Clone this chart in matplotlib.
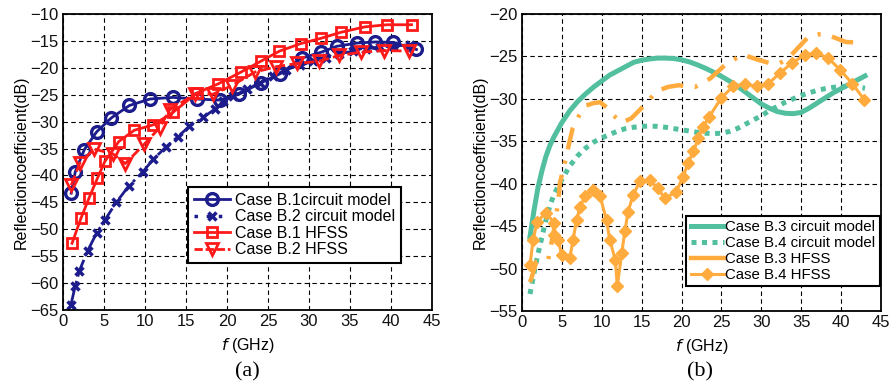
import matplotlib
matplotlib.use("Agg")
import matplotlib.pyplot as plt
from matplotlib.lines import Line2D

plt.rcParams['font.family'] = ['Liberation Sans', 'DejaVu Sans']

# ---------------- data: panel (a) ----------------
b1_cm_f = [1.0, 1.5, 2.6, 4.1, 5.9, 8.1, 10.6, 13.4, 16.3, 19.1, 21.5, 24.1, 26.5, 29.1, 31.5, 33.4, 35.9, 38.1, 40.3, 43.1]
b1_cm_db = [-43.3, -39.3, -35.2, -31.9, -29.3, -27.0, -25.8, -25.5, -25.8, -26.0, -24.9, -22.8, -21.1, -18.2, -17.1, -16.0, -15.4, -15.2, -15.3, -16.6]

b2_cm_f = [0.95, 1.5, 2.0, 3.0, 4.1, 5.1, 6.5, 8.0, 9.7, 11.0, 12.5, 14.0, 15.4, 17.1, 18.5, 19.5, 20.7, 22.4, 24.0, 25.6, 27.2, 28.9, 30.5, 32.1, 33.7, 35.4, 37.0, 38.6, 40.2, 42.3]
b2_cm_db = [-64.1, -60.5, -57.7, -54.0, -50.7, -48.3, -45.0, -42.0, -39.4, -37.0, -34.8, -32.8, -30.9, -29.2, -27.7, -26.2, -25.3, -24.0, -22.8, -21.5, -20.4, -19.4, -18.8, -18.2, -17.4, -16.9, -16.5, -16.1, -16.0, -15.7]

b1_hf_f = [1.1, 2.2, 3.2, 4.2, 5.1, 6.8, 8.7, 11.0, 13.4, 16.3, 18.9, 21.7, 24.1, 26.4, 29.0, 31.5, 33.9, 36.8, 39.5, 42.5]
b1_hf_db = [-52.6, -47.9, -44.1, -40.5, -37.4, -33.7, -31.6, -30.6, -28.3, -24.7, -23.0, -20.8, -18.8, -16.9, -15.5, -14.5, -13.4, -12.4, -12.0, -12.0]

b2_hf_f = [1.0, 2.05, 3.8, 6.1, 7.6, 9.9, 11.8, 13.0, 16.1, 18.3, 20.6, 23.4, 26.0, 28.5, 31.2, 33.7, 36.3, 39.2, 42.2]
b2_hf_db = [-41.8, -37.7, -35.1, -36.0, -37.8, -34.2, -31.1, -27.8, -24.9, -24.9, -23.3, -20.8, -19.8, -19.2, -18.8, -17.7, -17.1, -16.8, -16.9]

# ---------------- data: panel (b) ----------------
b3_cm_f = [1.0, 1.5, 2.0, 2.5, 3.0, 3.5, 4.0, 5.0, 6.0, 7.0, 8.0, 9.0, 10.0, 11.0, 12.0, 13.0, 14.0, 15.0, 16.0, 17.0, 18.0, 19.0, 20.0,
           21.0, 22.0, 23.0, 24.0, 25.0, 26.0, 27.0, 28.0, 29.0, 30.0, 31.0, 32.0, 33.0, 34.0, 35.0, 36.0, 37.0, 38.0, 39.0, 40.0, 41.0, 42.0, 43.0]
b3_cm_db = [-46.3, -43.2, -40.5, -38.5, -36.8, -35.5, -34.5, -32.8, -31.4, -30.3, -29.4, -28.6, -27.9, -27.2, -26.7, -26.2, -25.7, -25.45, -25.3, -25.2, -25.2, -25.25, -25.4,
            -25.65, -26.0, -26.4, -26.85, -27.35, -27.9, -28.5, -29.2, -29.9, -30.6, -31.1, -31.5, -31.7, -31.75, -31.6, -31.1, -30.5, -29.9, -29.3, -28.8, -28.3, -27.8, -27.3]

b4_cm_f = [1.0, 1.5, 2.0, 2.5, 3.0, 3.5, 4.0, 5.0, 6.0, 7.0, 8.0, 9.0, 10.0, 11.0, 12.0, 13.0, 14.0, 15.0, 16.0, 17.0, 18.0, 19.0, 20.0,
           21.0, 22.0, 23.0, 24.0, 25.0, 26.0, 27.0, 28.0, 29.0, 30.0, 31.0, 32.0, 33.0, 34.0, 35.0, 36.0, 37.0, 38.0, 39.0, 40.0, 41.0, 42.0, 43.0]
b4_cm_db = [-53.0, -50.6, -48.3, -46.3, -44.3, -42.6, -41.3, -39.5, -37.9, -36.7, -35.8, -35.1, -34.6, -34.2, -33.8, -33.5, -33.35, -33.25, -33.2, -33.25, -33.35, -33.5, -33.65,
            -33.8, -33.95, -34.05, -34.1, -34.05, -33.85, -33.5, -33.0, -32.5, -32.0, -31.4, -30.9, -30.4, -30.0, -29.6, -29.3, -29.0, -28.8, -28.65, -28.55, -28.5, -28.6, -28.75]

b3_hf_f = [1.0, 1.2, 1.8, 2.5, 3.3, 4.0, 4.55, 4.76, 5.4, 5.9, 6.35, 7.2, 8.0, 9.0, 9.8, 10.6, 11.4, 12.5, 13.7, 15.3, 16.9, 18.3, 19.6, 21.7, 23.6, 25.7, 27.7, 29.6, 31.1, 32.3, 33.3, 34.2, 35.9, 37.2, 38.4, 40.6, 42.8]
b3_hf_db = [-51.6, -51.1, -49.2, -49.0, -48.9, -45.5, -42.1, -39.9, -37.4, -35.3, -33.5, -31.9, -30.8, -30.5, -30.4, -31.0, -31.9, -32.8, -32.3, -30.8, -29.1, -28.6, -28.4, -28.6, -27.6, -25.8, -24.8, -25.4, -25.8, -25.8, -25.3, -24.4, -22.7, -22.4, -22.5, -23.3, -23.4]

b4_hf_f = [1.0, 1.4, 1.9, 3.0, 4.0, 4.05, 4.5, 5.0, 6.0, 6.4, 6.85, 7.3, 7.9, 8.9, 9.8, 10.6, 11.0, 11.7, 11.95, 12.5, 12.9, 13.3, 13.95, 14.8, 16.0, 17.0, 17.9, 19.3, 20.2, 20.8, 21.5, 22.1, 22.7, 23.4, 25.0, 26.5, 27.9, 29.4, 30.9, 32.3, 33.8, 35.5, 36.9, 38.4, 39.9, 41.4, 42.9]
b4_hf_db = [-49.6, -46.6, -44.5, -43.4, -44.6, -46.0, -46.6, -48.4, -48.8, -46.6, -44.3, -42.7, -41.5, -40.7, -41.5, -44.3, -46.6, -49.0, -52.1, -48.2, -45.6, -43.3, -41.3, -39.7, -39.6, -40.5, -41.7, -41.0, -39.2, -37.6, -36.2, -34.6, -33.3, -32.2, -29.9, -28.5, -28.3, -28.5, -28.2, -27.0, -25.8, -24.8, -24.6, -25.2, -26.6, -28.2, -30.1]

xticks = [0, 5, 10, 15, 20, 25, 30, 35, 40, 45]
yticks_a = [-65, -60, -55, -50, -45, -40, -35, -30, -25, -20, -15, -10]
yticks_b = [-55, -50, -45, -40, -35, -30, -25, -20]

labels_a = ['Case B.1circuit model', 'Case B.2 circuit model', 'Case B.1 HFSS', 'Case B.2 HFSS']
labels_b = ['Case B.3 circuit model', 'Case B.4 circuit model', 'Case B.3 HFSS', 'Case B.4 HFSS']

NAVY = '#1c1c8c'
RED = '#ff1a1a'
TEAL = '#52bf9f'
ORANGE = '#ffab3d'

fig = plt.figure(figsize=(8.95, 3.88), dpi=100)
ax1 = fig.add_axes([0.0704, 0.2010, 0.4123, 0.7630])
ax2 = fig.add_axes([0.5832, 0.1985, 0.4011, 0.7655])


def style_axes(ax, yticks, ylim):
    ax.set_xlim(0, 45)
    ax.set_ylim(*ylim)
    ax.set_xticks(xticks)
    ax.set_yticks(yticks)
    ax.tick_params(direction='in', length=0, labelsize=12, pad=3, colors='#111111')
    ax.grid(True, color='black', linestyle=(0, (4, 3)), linewidth=0.8)
    for s in ax.spines.values():
        s.set_linewidth(1.3)
        s.set_color('black')
    ax.set_xlabel(r'$\it{f}$ (GHz)', fontsize=11.5, labelpad=5)
    ax.set_ylabel('Reflectioncoefficient(dB)', fontsize=11.5, labelpad=1)


# ---- panel (a)
ax1.plot(b1_cm_f, b1_cm_db, '-', color=NAVY, lw=2, marker='o', ms=8.5, mfc='none', mew=2.4, label=labels_a[0])
ax1.plot(b2_cm_f, b2_cm_db, '-.', color=NAVY, lw=2, marker='x', ms=6, mew=2.5, label=labels_a[1])
ax1.plot(b1_hf_f, b1_hf_db, '-', color=RED, lw=2, marker='s', ms=7.5, mfc='none', mew=2, label=labels_a[2])
ax1.plot(b2_hf_f, b2_hf_db, '--', color=RED, lw=2, marker='v', ms=9, mfc='none', mew=2, label=labels_a[3])
style_axes(ax1, yticks_a, (-65, -10))

h_a = [
    Line2D([], [], color=NAVY, lw=2, marker='o', ms=8.5, mfc='none', mew=2.4),
    Line2D([], [], color=NAVY, lw=2.5, ls=(0, (1, 2.5)), marker='x', ms=6, mew=2.5),
    Line2D([], [], color=RED, lw=2, marker='s', ms=7.5, mfc='none', mew=2),
    Line2D([], [], color=RED, lw=2, ls=(0, (3, 1)), marker='v', ms=9, mfc='none', mew=2),
]
leg1 = ax1.legend(h_a, labels_a, loc='upper left', bbox_to_anchor=(0.339, 0.4155), borderaxespad=0,
                  fontsize=11.5, fancybox=False, framealpha=1, edgecolor='black', handlelength=2.3,
                  handletextpad=0.3, labelspacing=0.1, borderpad=0.35)
leg1.get_frame().set_linewidth(1.5)

# ---- panel (b)
ax2.plot(b3_cm_f, b3_cm_db, '-', color=TEAL, lw=3.6, label=labels_b[0])
ax2.plot(b4_cm_f, b4_cm_db, color=TEAL, lw=3.6, ls=(0, (1, 1.1)), label=labels_b[1])
ax2.plot(b3_hf_f, b3_hf_db, color=ORANGE, lw=3.2, ls=(0, (5, 2.6, 0.7, 2.6)), label=labels_b[2])
ax2.plot(b4_hf_f, b4_hf_db, '-', color=ORANGE, lw=2.2, marker='D', ms=6, mec=ORANGE, mfc=ORANGE, label=labels_b[3])
style_axes(ax2, yticks_b, (-55, -20))

h_b = [
    Line2D([], [], color=TEAL, lw=3.6),
    Line2D([], [], color=TEAL, lw=3.6, ls=(0, (1, 1.1))),
    Line2D([], [], color=ORANGE, lw=3.2),
    Line2D([], [], color=ORANGE, lw=2.2, marker='D', ms=6),
]
leg2 = ax2.legend(h_b, labels_b, loc='upper left', bbox_to_anchor=(0.457, 0.32), borderaxespad=0,
                  fontsize=10.8, fancybox=False, framealpha=1, edgecolor='black', handlelength=2.2,
                  handletextpad=0.1, labelspacing=0.12, borderpad=0.3)
leg2.get_frame().set_linewidth(1.5)

fig.text(0.276, 0.042, '(a)', ha='center', va='center', fontsize=16, family=['Liberation Serif', 'DejaVu Serif'])
fig.text(0.782, 0.042, '(b)', ha='center', va='center', fontsize=16, family=['Liberation Serif', 'DejaVu Serif'])

fig.savefig('out.png', dpi=100)
